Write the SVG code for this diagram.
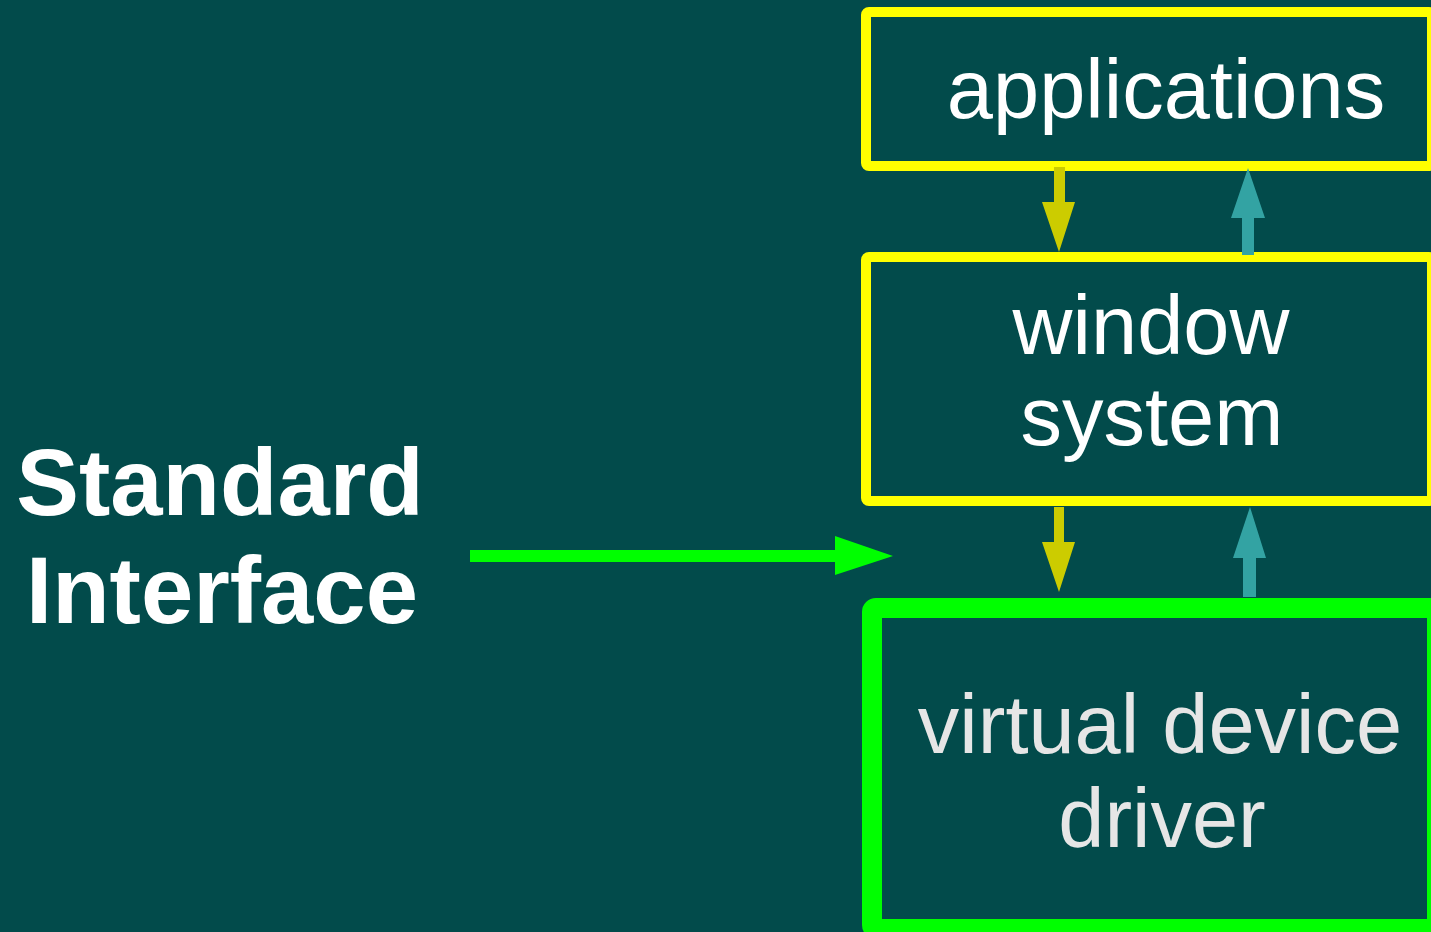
<svg xmlns="http://www.w3.org/2000/svg" width="1431" height="932" viewBox="0 0 1431 932">
<defs>
<style>
.box{fill:none;stroke:#ffff00;stroke-width:10;stroke-linejoin:round}
.vbox{fill:none;stroke:#00ff00;stroke-width:20;stroke-linejoin:round}
.lbl{font-family:"Liberation Sans",Arial,sans-serif;font-size:83px;fill:#ffffff;text-anchor:middle}
.big{font-family:"Liberation Sans",Arial,sans-serif;font-size:94px;font-weight:bold;fill:#ffffff;text-anchor:middle}
.down{fill:#cccc00}
.up{fill:#33a3a3}
</style>
</defs>
<rect x="0" y="0" width="1431" height="932" fill="#024b4b"/>
<g id="standard-interface">
<text class="big" x="220" y="515">Standard</text>
<text class="big" x="222" y="623">Interface</text>
</g>
<g id="applications">
<rect class="box" x="866" y="12" width="566" height="154" rx="3"/>
<text class="lbl" x="1166" y="118">applications</text>
</g>
<g id="window-system">
<rect class="box" x="866" y="257" width="566" height="244" rx="3"/>
<text class="lbl" x="1151" y="354">window</text>
<text class="lbl" x="1152" y="445">system</text>
</g>
<g id="virtual-device-driver">
<rect class="vbox" x="872" y="608" width="565" height="321" rx="4"/>
<text class="lbl" x="1160" y="753" style="fill:#e6e6e6">virtual device</text>
<text class="lbl" x="1162" y="847" style="fill:#e6e6e6">driver</text>
</g>
<g id="connectors">
<polygon class="down" points="1054,167 1065,167 1065,202 1075,202 1059,252 1042,202 1054,202"/>
<polygon class="up" points="1242,255 1254,255 1254,218 1265,218 1248,168 1231,218 1242,218"/>
<polygon class="down" points="1054,507 1064,507 1064,542 1075,542 1059,592 1042,542 1054,542"/>
<polygon class="up" points="1243,597 1256,597 1256,558 1266,558 1250,507 1233,558 1243,558"/>
<polygon fill="#00ff00" points="470,550 835,550 835,536 893,556 835,575 835,562 470,562"/>
</g>
</svg>
